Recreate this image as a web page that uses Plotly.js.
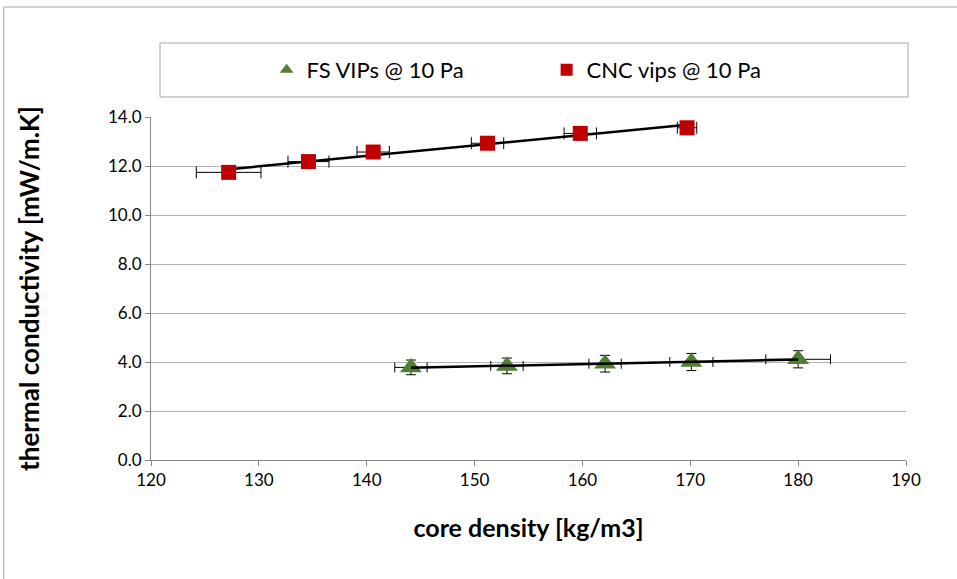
<!DOCTYPE html>
<html>
<head>
<meta charset="utf-8">
<script src="https://cdn.plot.ly/plotly-3.0.1.min.js"></script>
<style>html,body{margin:0;padding:0;background:#fff;}#chart{width:957px;height:579px;}</style>
</head>
<body>
<div id="chart"></div>
<script>
// FS VIPs @ 10 Pa
const fsDensity = [144.1, 153.0, 162.1, 170.1, 180.0];
const fsConductivity = [3.78, 3.84, 3.93, 4.00, 4.11];
const fsDensityErr = [1.5, 1.5, 1.5, 2.0, 3.0];
const fsConductivityErr = [0.3, 0.32, 0.34, 0.35, 0.35];
// CNC vips @ 10 Pa
const cncDensity = [127.2, 134.6, 140.6, 151.2, 159.8, 169.7];
const cncConductivity = [11.74, 12.18, 12.57, 12.93, 13.33, 13.56];
const cncDensityErr = [3.0, 1.9, 1.5, 1.5, 1.5, 0.9];

const seriesNames = ['FS VIPs @ 10 Pa', 'CNC vips @ 10 Pa'];
const xTitle = 'core density [kg/m3]';
const yTitle = 'thermal conductivity [mW/m.K]';

function linFit(xs, ys) {
  const n = xs.length;
  const mx = xs.reduce((a, b) => a + b, 0) / n;
  const my = ys.reduce((a, b) => a + b, 0) / n;
  let sxy = 0, sxx = 0;
  for (let i = 0; i < n; i++) { sxy += (xs[i] - mx) * (ys[i] - my); sxx += (xs[i] - mx) ** 2; }
  const b = sxy / sxx, a = my - b * mx;
  const x0 = Math.min(...xs), x1 = Math.max(...xs);
  return { x: [x0, x1], y: [a + b * x0, a + b * x1] };
}

const fsFit = linFit(fsDensity, fsConductivity);
const cncFit = linFit(cncDensity, cncConductivity);

const font = 'Lato, "Open Sans", sans-serif';

const traces = [
  {
    x: fsDensity, y: fsConductivity, name: seriesNames[0], type: 'scatter', mode: 'markers',
    marker: { symbol: 'triangle-up', size: 19, color: '#4f7f2f' },
    error_x: { type: 'data', array: fsDensityErr, visible: true, color: '#000', thickness: 1, width: 5 },
    error_y: { type: 'data', array: fsConductivityErr, visible: true, color: '#000', thickness: 1, width: 5 }
  },
  {
    x: fsFit.x, y: fsFit.y, type: 'scatter', mode: 'lines', showlegend: false, hoverinfo: 'skip',
    line: { color: '#000', width: 2.5 }
  },
  {
    x: cncFit.x, y: cncFit.y, type: 'scatter', mode: 'lines', showlegend: false, hoverinfo: 'skip',
    line: { color: '#000', width: 2.5 }
  },
  {
    x: cncDensity, y: cncConductivity, name: seriesNames[1], type: 'scatter', mode: 'markers',
    marker: { symbol: 'square', size: 15, color: '#c00000' },
    error_x: { type: 'data', array: cncDensityErr, visible: true, color: '#000', thickness: 1, width: 6 }
  }
];

const layout = {
  width: 957, height: 579,
  margin: { l: 151, r: 51, t: 117, b: 119, pad: 0 },
  paper_bgcolor: '#fff', plot_bgcolor: '#fff',
  font: { family: font, size: 17, color: '#000' },
  showlegend: true,
  legend: {
    orientation: 'h', x: 0.524, xanchor: 'center', y: 1.137, yanchor: 'middle',
    font: { family: font, size: 22, color: '#000' },
    bgcolor: 'rgba(0,0,0,0)', borderwidth: 0, itemsizing: 'constant',
    entrywidth: 235, entrywidthmode: 'pixels'
  },
  xaxis: {
    range: [120, 190], dtick: 10, tick0: 120,
    showgrid: false, zeroline: false,
    showline: true, linecolor: '#868686', linewidth: 1,
    ticks: 'outside', ticklen: 5, tickcolor: '#868686',
    tickfont: { family: font, size: 17, color: '#000' },
    title: { text: xTitle, font: { family: font, size: 25, weight: 700, color: '#000' }, standoff: 30 }
  },
  yaxis: {
    range: [0, 14], dtick: 2, tick0: 0, tickformat: '.1f',
    showgrid: true, gridcolor: '#b3b3b3', gridwidth: 1, zeroline: false,
    showline: true, linecolor: '#868686', linewidth: 1,
    ticks: 'outside', ticklen: 5, tickcolor: '#868686',
    tickfont: { family: font, size: 17, color: '#000' },
    title: { text: yTitle, font: { family: font, size: 26, weight: 700, color: '#000' }, standoff: 60 }
  },
  shapes: [
    { type: 'rect', xref: 'paper', yref: 'paper', x0: -0.195, x1: 1.09, y0: -0.4, y1: 1.3207,
      line: { color: '#a6a6a6', width: 1 }, fillcolor: 'rgba(0,0,0,0)', layer: 'below' },
    { type: 'rect', xref: 'paper', yref: 'paper', x0: (160 - 151) / 755, x1: (908 - 151) / 755,
      y0: (460 - 97) / 343, y1: (460 - 43) / 343,
      line: { color: '#a6a6a6', width: 1 }, fillcolor: 'rgba(0,0,0,0)', layer: 'below' }
  ]
};

Plotly.newPlot('chart', traces, layout, { displayModeBar: false, staticPlot: true });
</script>
</body>
</html>
